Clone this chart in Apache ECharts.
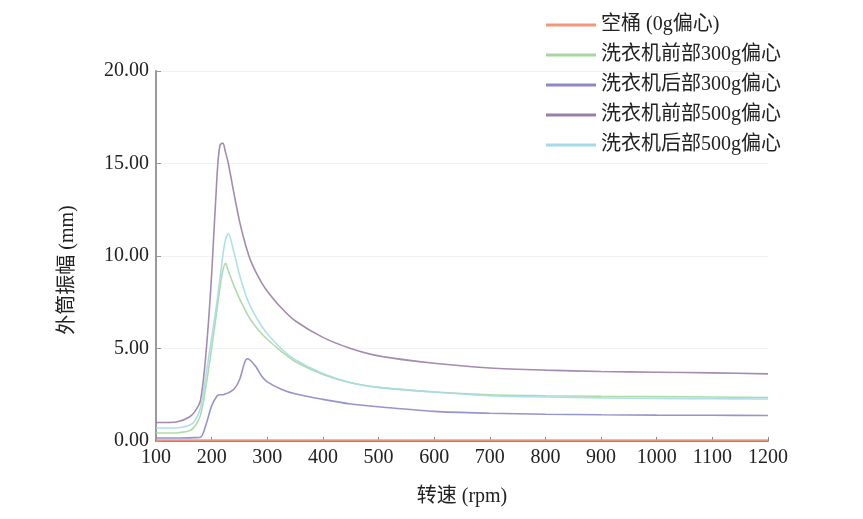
<!DOCTYPE html>
<html>
<head>
<meta charset="utf-8">
<script src="https://cdn.jsdelivr.net/npm/echarts@6/dist/echarts.min.js"></script>
<style>html,body{margin:0;padding:0;background:#fff;}#c{width:863px;height:519px;}</style>
</head>
<body>
<div id="c"></div>
<script>
const rpm = [100,120,140,160,170,180,190,200,210,215,220,225,230,240,250,260,265,270,280,290,300,325,350,400,450,500,600,700,800,900,1000,1100,1200];
const seriesNames = ['空桶 (0g偏心)','洗衣机前部300g偏心','洗衣机后部300g偏心','洗衣机前部500g偏心','洗衣机后部500g偏心'];
const empty0g   = [0.05,0.05,0.05,0.05,0.05,0.05,0.05,0.05,0.05,0.05,0.05,0.05,0.05,0.05,0.05,0.05,0.05,0.05,0.05,0.05,0.05,0.05,0.05,0.05,0.05,0.05,0.05,0.05,0.05,0.05,0.05,0.05,0.05];
const front300  = [0.43,0.43,0.45,0.55,0.8,1.4,3.0,5.0,7.2,8.3,9.2,9.6,9.2,8.4,7.7,7.1,6.8,6.55,6.15,5.8,5.5,4.85,4.3,3.6,3.15,2.9,2.65,2.5,2.45,2.42,2.4,2.38,2.35];
const back300   = [0.16,0.16,0.16,0.17,0.18,0.2,0.9,1.9,2.45,2.5,2.5,2.55,2.6,2.8,3.3,4.3,4.45,4.35,4.0,3.5,3.2,2.8,2.55,2.25,2.0,1.85,1.6,1.5,1.45,1.42,1.4,1.39,1.38];
const front500  = [1.0,1.0,1.05,1.3,1.6,2.2,4.8,9.0,14.5,16.0,16.1,15.6,15.0,13.4,11.9,10.7,10.2,9.75,9.1,8.55,8.1,7.2,6.5,5.6,5.0,4.6,4.2,3.95,3.83,3.76,3.72,3.68,3.63];
const back500   = [0.7,0.7,0.72,0.85,1.1,1.8,3.6,5.6,7.6,8.8,10.0,10.9,11.2,10.2,9.0,8.0,7.6,7.25,6.7,6.2,5.8,5.0,4.4,3.65,3.15,2.9,2.65,2.45,2.38,2.33,2.3,2.28,2.27];
const yTicks = [0,5,10,15,20];
const xTicks = [100,200,300,400,500,600,700,800,900,1000,1100,1200];

const font = "'Liberation Serif','Noto Sans CJK SC',serif";
const colors = ['#f2977a','#a9d6a0','#8a88c6','#9a7ea8','#a4dbe8'];
const allData = [empty0g, front300, back300, front500, back500];

const chart = echarts.init(document.getElementById('c'));
chart.setOption({
  animation: false,
  backgroundColor: '#fff',
  color: colors,
  grid: {left: 156, right: 95, top: 71, bottom: 78, containLabel: false},
  legend: {
    orient: 'vertical',
    left: 541,
    top: 9,
    icon: 'rect',
    itemWidth: 50,
    itemHeight: 3,
    itemGap: 8,
    textStyle: {fontFamily: font, fontSize: 20, color: '#222', lineHeight: 22},
    data: seriesNames
  },
  xAxis: {
    type: 'value',
    min: 100, max: 1200, interval: 100,
    name: '转速 (rpm)',
    nameLocation: 'middle',
    nameGap: 46,
    nameTextStyle: {fontFamily: font, fontSize: 20, color: '#222'},
    axisLine: {show: true, lineStyle: {color: '#8a8a8a', width: 2}},
    axisTick: {show: true, inside: true, length: 4, lineStyle: {color: '#8a8a8a'}},
    axisLabel: {fontFamily: font, fontSize: 20, color: '#222', margin: 7,
      formatter: v => String(v)},
    splitLine: {show: false}
  },
  yAxis: {
    type: 'value',
    min: 0, max: 20, interval: 5,
    name: '外筒振幅 (mm)',
    nameLocation: 'middle',
    nameGap: 78,
    nameRotate: 90,
    nameTextStyle: {fontFamily: font, fontSize: 20, color: '#222', padding: [0, 0, 0, -28]},
    axisLine: {show: true, lineStyle: {color: '#9a9a9a', width: 2}},
    axisTick: {show: true, inside: true, length: 5, lineStyle: {color: '#9a9a9a'}},
    axisLabel: {fontFamily: font, fontSize: 20, color: '#222', margin: 7,
      formatter: v => v.toFixed(2)},
    splitLine: {show: true, lineStyle: {color: '#f2f2f2', width: 1}}
  },
  series: seriesNames.map((n, i) => ({
    name: n,
    type: 'line',
    showSymbol: false,
    smooth: 0.3,
    z: i === 0 ? 1 : 3,
    lineStyle: {width: 1.6, color: colors[i], opacity: 0.9},
    data: rpm.map((x, k) => [x, allData[i][k]])
  }))
});
</script>
</body>
</html>
